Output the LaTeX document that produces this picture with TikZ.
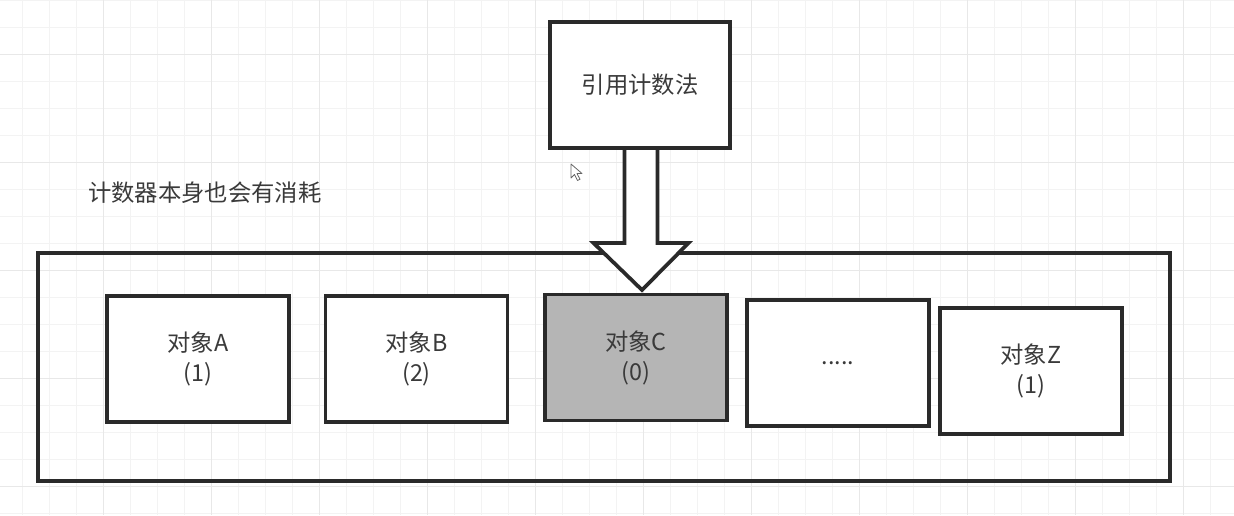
\documentclass[tikz,border=0pt]{standalone}
\usepackage{fontspec}
\newfontfamily\cjk{Noto Sans CJK SC}
\usetikzlibrary{calc}
\definecolor{gridminor}{HTML}{F3F3F3}
\definecolor{gridmajor}{HTML}{E8E8E8}
\definecolor{edge}{HTML}{2A2A2A}
\definecolor{txt}{HTML}{3A3A3A}
\definecolor{cfill}{HTML}{B5B5B5}
\tikzset{
  objbox/.style={draw=edge, line width=2.8pt, fill=white, minimum width=136.5pt,
    minimum height=94.5pt, inner sep=0pt, outer sep=0pt, align=center,
    font=\cjk\fontsize{17.5}{22.5}\selectfont, text=txt},
  outerbox/.style={draw=edge, line width=2.8pt, minimum width=849pt,
    minimum height=171pt, inner sep=0pt, outer sep=0pt},
  labeltext/.style={font=\cjk\fontsize{17.5}{22.5}\selectfont, text=txt, inner sep=0pt},
  blockarrow/.style={draw=edge, line width=2.8pt, fill=white, line join=miter},
  cursorshape/.style={draw=black!60, line width=0.6pt, fill=white, line join=round}
}
\begin{document}
\begin{tikzpicture}[x=0.75pt,y=-0.75pt]
\useasboundingbox (0,0) rectangle (1234,515);
\fill[white] (0,0) rectangle (1234,515);
% grid
\foreach \x in {-5,22,...,1234} \draw[gridminor, line width=0.75pt] (\x,0) -- (\x,515);
\foreach \y in {0,27,...,515} \draw[gridminor, line width=0.75pt] (0,\y) -- (1234,\y);
\foreach \x in {-5,103,...,1234} \draw[gridmajor, line width=0.75pt] (\x,0) -- (\x,515);
\foreach \y in {54,162,...,515} \draw[gridmajor, line width=0.75pt] (0,\y) -- (1234,\y);
% outer container
\node[outerbox] (outer) at (604,367) {};
% objects
\node[objbox] (A) at (198,359) {对象A\\(1)};
\node[objbox] (B) at (416.5,359) {对象B\\(2)};
\node[objbox, fill=cfill] (C) at (636,357.5) {对象C\\(0)};
\node[objbox] (D) at (838,363) {.....};
\node[objbox] (Z) at (1031,371) {对象Z\\(1)};
% label
\node[labeltext, anchor=west] (lbl) at (88,193) {计数器本身也会有消耗};
% top box
\node[objbox, minimum width=135pt] (top) at (640,85) {引用计数法};
% block arrow from top box to C
\draw[blockarrow]
  ($(top.south)+(-15.5,0)$) -- ($(top.south)+(-15.5,95)$) -- ($(top.south)+(-46.5,95)$)
  -- ($(top.south)+(2,142)$) -- ($(top.south)+(48.5,95)$) -- ($(top.south)+(17.5,95)$)
  -- ($(top.south)+(17.5,0)$);
\node[objbox, minimum width=135pt] at (top) {引用计数法};
% mouse cursor
\coordinate (cur) at (571,164);
\draw[cursorshape] (cur) -- ++(0,14) -- ++(3.5,-3.5) -- ++(3,6) -- ++(2.5,-1.2) -- ++(-3,-5.8) -- ++(5,0) -- cycle;
\end{tikzpicture}
\end{document}
